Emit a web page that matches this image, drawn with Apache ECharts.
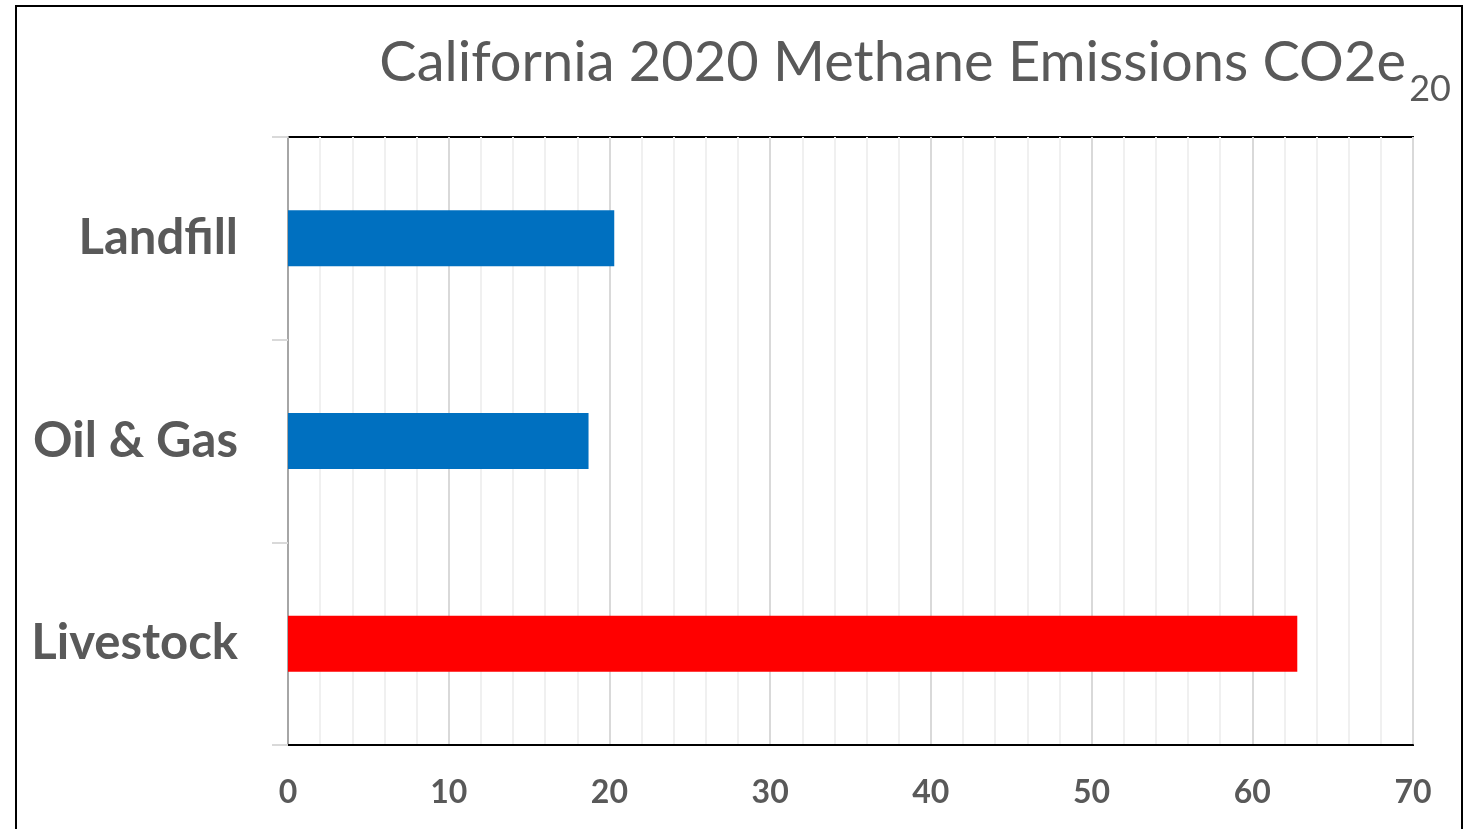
<!DOCTYPE html>
<html>
<head>
<meta charset="utf-8">
<style>
  html, body { margin: 0; padding: 0; background: #ffffff; }
  #chart { width: 1478px; height: 829px; }
</style>
<script src="https://cdn.jsdelivr.net/npm/echarts@6/dist/echarts.min.js"></script>
</head>
<body>
<div id="chart"></div>
<script>
// Methane emissions by source, CO2e (20-year GWP)
const categories = ['Livestock', 'Oil & Gas', 'Landfill'];
const emissions = [62.8, 18.7, 20.3];
const xTicks = [0, 10, 20, 30, 40, 50, 60, 70];

const TEXT = '#595959';
const FONT = 'Lato';

const chart = echarts.init(document.getElementById('chart'), null, { renderer: 'canvas' });

chart.setOption({
  backgroundColor: '#ffffff',
  animation: false,
  title: [
    {
      text: 'California 2020 Methane Emissions CO2e',
      right: 67,
      top: 30,
      textStyle: { fontFamily: FONT, fontWeight: 'normal', fontSize: 56, color: TEXT }
    },
    {
      text: '20',
      right: 22,
      top: 66,
      textStyle: { fontFamily: FONT, fontWeight: 'normal', fontSize: 36, color: TEXT }
    }
  ],
  graphic: [
    {
      type: 'rect',
      shape: { x: 16, y: 6, width: 1446, height: 840 },
      style: { fill: 'none', stroke: '#000000', lineWidth: 2 },
      silent: true
    }
  ],
  grid: {
    left: 288, top: 137, right: 65, bottom: 84,
    show: true, borderColor: '#000000', borderWidth: 2, backgroundColor: 'transparent'
  },
  xAxis: {
    type: 'value',
    min: xTicks[0],
    max: xTicks[xTicks.length - 1],
    interval: 10,
    axisLine: { show: true, lineStyle: { color: '#000000', width: 2 } },
    axisTick: { show: false },
    axisLabel: {
      margin: 32,
      fontFamily: FONT, fontWeight: 'bold', fontSize: 32, color: TEXT,
      formatter: v => xTicks.includes(v) ? String(v) : ''
    },
    splitLine: { show: true, lineStyle: { color: '#d9d9d9', width: 2 } },
    minorTick: { show: false, splitNumber: 5 },
    minorSplitLine: { show: true, lineStyle: { color: '#f0f0f0', width: 2 } }
  },
  yAxis: {
    type: 'category',
    data: categories,
    boundaryGap: true,
    axisLine: { show: true, lineStyle: { color: '#a6a6a6', width: 2 } },
    axisTick: { show: true, length: 16, lineStyle: { color: '#d9d9d9', width: 2 } },
    axisLabel: {
      margin: 50,
      fontFamily: FONT, fontWeight: 'bold', fontSize: 49, color: TEXT
    },
    splitLine: { show: false }
  },
  series: [
    {
      type: 'bar',
      data: emissions,
      barWidth: 56,
      itemStyle: {
        color: p => p.name === 'Livestock' ? '#ff0000' : '#0070c0'
      }
    }
  ]
});
</script>
</body>
</html>
